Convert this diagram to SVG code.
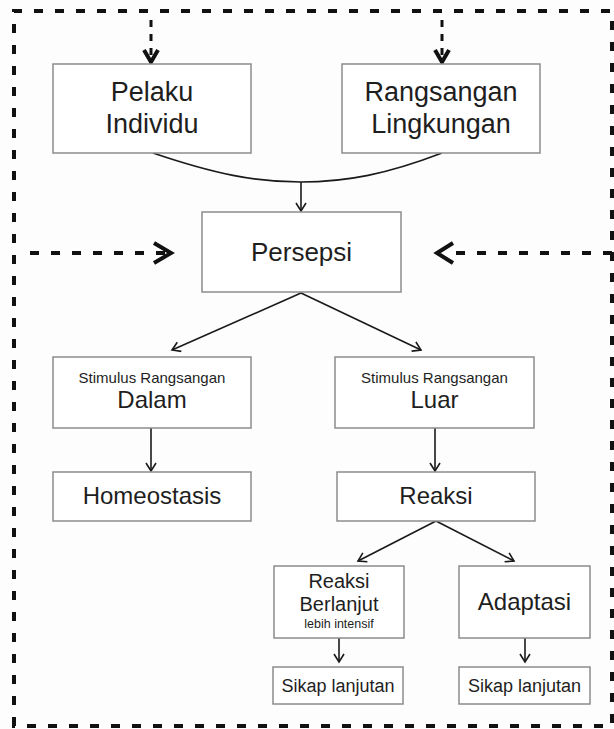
<svg xmlns="http://www.w3.org/2000/svg" width="614" height="729" viewBox="0 0 614 729">
<defs>
<style>
.box{fill:#ffffff;stroke:#8c8c8c;stroke-width:1.5}
.t{font-family:"Liberation Sans",Arial,sans-serif;fill:#1e1e1e;text-anchor:middle}
.con{fill:none;stroke:#1a1a1a;stroke-width:1.6}
.dash{fill:none;stroke:#111;stroke-width:4;stroke-dasharray:9 12}
.dashs{fill:none;stroke:#111;stroke-width:3;stroke-dasharray:7 7}
.chev{fill:none;stroke:#111;stroke-width:4;stroke-linejoin:miter}
</style>
<marker id="ah" viewBox="-10 -6 12 12" markerWidth="12" markerHeight="12" refX="0" refY="0" orient="auto" markerUnits="userSpaceOnUse">
<path d="M-8,-5 L0,0 L-8,5" fill="none" stroke="#1a1a1a" stroke-width="1.6"/>
</marker>
</defs>
<rect width="614" height="729" fill="#fdfdfd"/>
<g id="border">
<path class="dash" d="M14,726 L14,11 L612,11 L612,726 Z"/>
</g>
<g id="connectors">
<path class="dashs" d="M151,20 L151,58"/>
<path class="chev" d="M144,50 L151,62 L158,50" stroke-width="3.5"/>
<path class="dashs" d="M442,20 L442,58"/>
<path class="chev" d="M435,50 L442,62 L449,50" stroke-width="3.5"/>
<path class="dash" d="M30,253 L166,253"/>
<path class="chev" d="M154,243 L171,253 L154,263"/>
<path class="dash" d="M612,253 L444,253"/>
<path class="chev" d="M453,243 L437,253 L453,263"/>
<path class="con" d="M153,153 C215,174 255,182 301,182 C347,182 387,174 442,153"/>
<path class="con" d="M301,182 L301,211" marker-end="url(#ah)"/>
<path class="con" d="M301,293 L172,350" marker-end="url(#ah)"/>
<path class="con" d="M301,293 L421,350" marker-end="url(#ah)"/>
<path class="con" d="M151,428 L151,471" marker-end="url(#ah)"/>
<path class="con" d="M435,428 L435,471" marker-end="url(#ah)"/>
<path class="con" d="M436,521 L358,561" marker-end="url(#ah)"/>
<path class="con" d="M436,521 L514,561" marker-end="url(#ah)"/>
<path class="con" d="M339,638 L339,662" marker-end="url(#ah)"/>
<path class="con" d="M525,638 L525,662" marker-end="url(#ah)"/>
</g>
<g id="pelaku">
<rect class="box" x="53" y="64" width="198" height="89"/>
<text class="t" x="152" y="101" font-size="27">Pelaku</text>
<text class="t" x="152" y="133" font-size="27">Individu</text>
</g>
<g id="rangsangan">
<rect class="box" x="342" y="64" width="198" height="89"/>
<text class="t" x="441" y="101" font-size="27">Rangsangan</text>
<text class="t" x="441" y="133" font-size="27">Lingkungan</text>
</g>
<g id="persepsi">
<rect class="box" x="202" y="212" width="199" height="80"/>
<text class="t" x="301.5" y="261" font-size="26">Persepsi</text>
</g>
<g id="stimulus-dalam">
<rect class="box" x="53" y="357" width="198" height="71"/>
<text class="t" x="152" y="383" font-size="15">Stimulus Rangsangan</text>
<text class="t" x="152" y="408" font-size="24">Dalam</text>
</g>
<g id="stimulus-luar">
<rect class="box" x="335" y="357" width="199" height="71"/>
<text class="t" x="434.5" y="383" font-size="15">Stimulus Rangsangan</text>
<text class="t" x="434.5" y="408" font-size="24">Luar</text>
</g>
<g id="homeostasis">
<rect class="box" x="53" y="472" width="198" height="49"/>
<text class="t" x="152" y="504" font-size="24">Homeostasis</text>
</g>
<g id="reaksi">
<rect class="box" x="337" y="472" width="198" height="49"/>
<text class="t" x="436" y="504" font-size="24">Reaksi</text>
</g>
<g id="reaksi-berlanjut">
<rect class="box" x="274" y="566" width="130" height="72"/>
<text class="t" x="339" y="588" font-size="20">Reaksi</text>
<text class="t" x="339" y="611" font-size="20">Berlanjut</text>
<text class="t" x="339" y="628" font-size="12.5">lebih intensif</text>
</g>
<g id="adaptasi">
<rect class="box" x="459" y="566" width="131" height="72"/>
<text class="t" x="524.5" y="610" font-size="24">Adaptasi</text>
</g>
<g id="sikap-1">
<rect class="box" x="273" y="667" width="130" height="37"/>
<text class="t" x="338" y="692" font-size="18">Sikap lanjutan</text>
</g>
<g id="sikap-2">
<rect class="box" x="459" y="667" width="131" height="37"/>
<text class="t" x="524.5" y="692" font-size="18">Sikap lanjutan</text>
</g>
</svg>
